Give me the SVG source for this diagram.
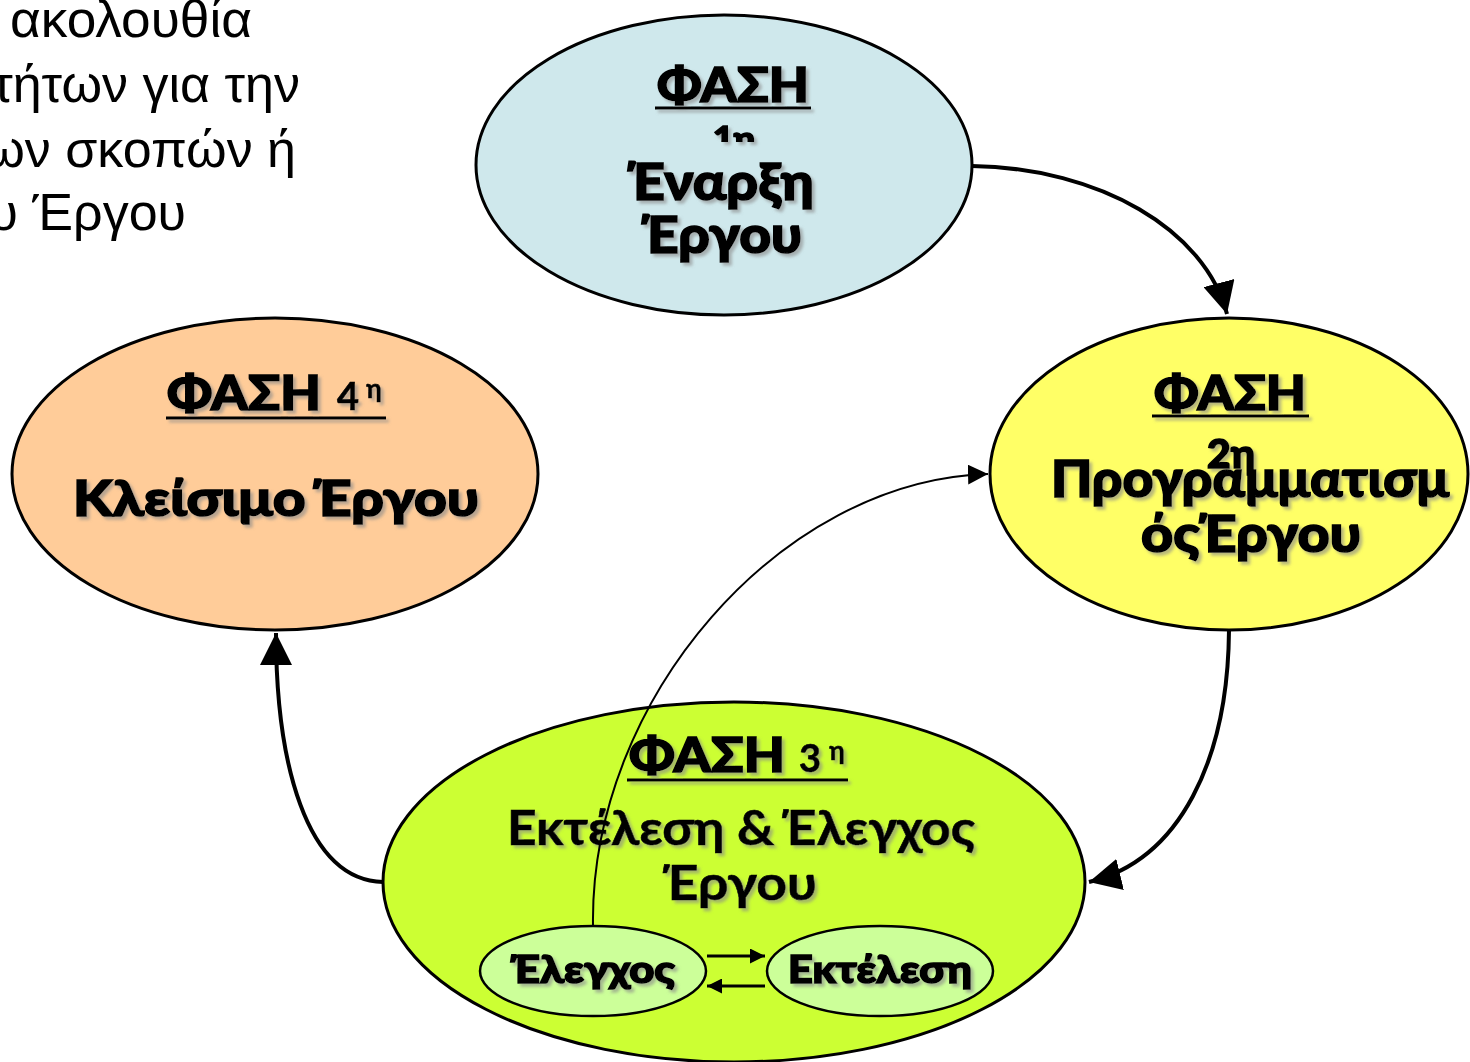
<svg xmlns="http://www.w3.org/2000/svg" width="1470" height="1062" viewBox="0 0 1470 1062">
<style>
.bg{fill:#ffffff}
.phase{stroke:#000;stroke-width:3}
.sub{stroke:#000;stroke-width:2.5;fill:#CCFF99}
.heavy{font-family:"Lato","DejaVu Sans",sans-serif;font-weight:900;fill:#000;stroke:#000;stroke-width:1.6;text-anchor:middle}
.med{font-family:"Lato","DejaVu Sans",sans-serif;font-weight:700;fill:#000;stroke:#000;stroke-width:0.6;text-anchor:middle}
.intro{font-family:"Liberation Sans",Arial,sans-serif;font-size:52px;fill:#000;text-anchor:end}
.ul{stroke:#000;stroke-width:3}
.conn{fill:none;stroke:#000;stroke-width:4}
.thin{fill:none;stroke:#000;stroke-width:2}
.small{fill:none;stroke:#000;stroke-width:3}
</style>
<defs>
<filter id="sh" x="-10%" y="-10%" width="130%" height="140%">
<feDropShadow dx="3" dy="3" stdDeviation="1.5" flood-color="#888" flood-opacity="0.6"/>
</filter>
<marker id="big" viewBox="0 0 10 10" refX="10" refY="5" markerWidth="8" markerHeight="8" orient="auto">
<path d="M0,0 L10,5 L0,10 z" fill="#000"/>
</marker>
<marker id="mid" viewBox="0 0 10 10" refX="10" refY="5" markerWidth="10" markerHeight="10" orient="auto">
<path d="M0,0 L10,5 L0,10 z" fill="#000"/>
</marker>
<marker id="sm" viewBox="0 0 10 10" refX="10" refY="5" markerWidth="6" markerHeight="5" orient="auto">
<path d="M0,0 L10,5 L0,10 z" fill="#000"/>
</marker>
<clipPath id="clip1"><rect x="600" y="100" width="260" height="42"/></clipPath>
</defs>
<rect class="bg" width="1470" height="1062"/>

<g id="intro-text">
<text class="intro" x="252" y="37" textLength="242" lengthAdjust="spacingAndGlyphs">ακολουθία</text>
<text class="intro" x="300" y="102">τήτων για την</text>
<text class="intro" x="296" y="167">ων σκοπών ή</text>
<text class="intro" x="186" y="230">υ Έργου</text>
</g>

<g id="phase1">
<ellipse class="phase" cx="724" cy="165" rx="248" ry="150" fill="#CFE8EC"/>
<g filter="url(#sh)">
<text class="heavy" x="733" y="102" font-size="48" textLength="152" lengthAdjust="spacingAndGlyphs">ΦΑΣΗ</text>
<line class="ul" x1="655" y1="108" x2="811" y2="108"/>
<text class="heavy" x="734" y="150" font-size="32" textLength="42" lengthAdjust="spacingAndGlyphs" clip-path="url(#clip1)">1η</text>
<text class="heavy" x="721" y="200" font-size="52" textLength="186" lengthAdjust="spacingAndGlyphs">Έναρξη</text>
<text class="heavy" x="722" y="253" font-size="52" textLength="160" lengthAdjust="spacingAndGlyphs">Έργου</text>
</g>
</g>

<g id="phase2">
<ellipse class="phase" cx="1229" cy="474" rx="239" ry="156" fill="#FFFF66"/>
<g filter="url(#sh)">
<text class="heavy" x="1230" y="410" font-size="48" textLength="152" lengthAdjust="spacingAndGlyphs">ΦΑΣΗ</text>
<line class="ul" x1="1152" y1="416" x2="1309" y2="416"/>
<text class="heavy" x="1231" y="468" font-size="40" textLength="48" lengthAdjust="spacingAndGlyphs">2η</text>
<text class="heavy" x="1250" y="497" font-size="52" textLength="398" lengthAdjust="spacingAndGlyphs">Προγραμματισμ</text>
<text class="heavy" x="1251" y="552" font-size="52" textLength="220" lengthAdjust="spacingAndGlyphs">όςΈργου</text>
</g>
</g>

<g id="phase4">
<ellipse class="phase" cx="275" cy="474" rx="263" ry="156" fill="#FFCC99"/>
<g filter="url(#sh)">
<text class="heavy" x="244" y="410" font-size="48" textLength="154" lengthAdjust="spacingAndGlyphs">ΦΑΣΗ</text>
<text class="med" x="348" y="410" font-size="38">4</text>
<text class="med" x="374" y="398" font-size="26">η</text>
<line class="ul" x1="166" y1="418" x2="386" y2="418"/>
<text class="heavy" x="276" y="516" font-size="50" textLength="406" lengthAdjust="spacingAndGlyphs">Κλείσιμο Έργου</text>
</g>
</g>

<g id="phase3">
<ellipse class="phase" cx="734" cy="882" rx="351" ry="180" fill="#CCFF33"/>
<g filter="url(#sh)">
<text class="heavy" x="707" y="772" font-size="48" textLength="156" lengthAdjust="spacingAndGlyphs">ΦΑΣΗ</text>
<text class="med" x="810" y="772" font-size="38">3</text>
<text class="med" x="837" y="760" font-size="26">η</text>
<line class="ul" x1="627" y1="780" x2="848" y2="780"/>
<text class="med" x="741" y="845" font-size="48" textLength="468" lengthAdjust="spacingAndGlyphs">Εκτέλεση &amp; Έλεγχος</text>
<text class="med" x="740" y="900" font-size="48" textLength="154" lengthAdjust="spacingAndGlyphs">Έργου</text>
</g>
</g>

<g id="control">
<ellipse class="sub" cx="593" cy="971" rx="113" ry="45"/>
<text class="heavy" x="593" y="983" font-size="38" textLength="164" lengthAdjust="spacingAndGlyphs" filter="url(#sh)">Έλεγχος</text>
</g>

<g id="execution">
<ellipse class="sub" cx="880" cy="971" rx="113" ry="45"/>
<text class="heavy" x="880" y="983" font-size="38" textLength="184" lengthAdjust="spacingAndGlyphs" filter="url(#sh)">Εκτέλεση</text>
</g>

<g id="connectors">
<path class="conn" d="M972,166 C1100,168 1205,230 1227,314" marker-end="url(#big)"/>
<path class="conn" d="M1229,630 C1228,760 1180,860 1089,882" marker-end="url(#big)"/>
<path class="conn" d="M383,882 C305,880 276,760 276,633" marker-end="url(#big)"/>
<path class="thin" d="M593,925 C590,700 780,480 988,474" marker-end="url(#mid)"/>
<path class="small" d="M707,956 L765,956" marker-end="url(#sm)"/>
<path class="small" d="M765,986 L707,986" marker-end="url(#sm)"/>
</g>
</svg>
